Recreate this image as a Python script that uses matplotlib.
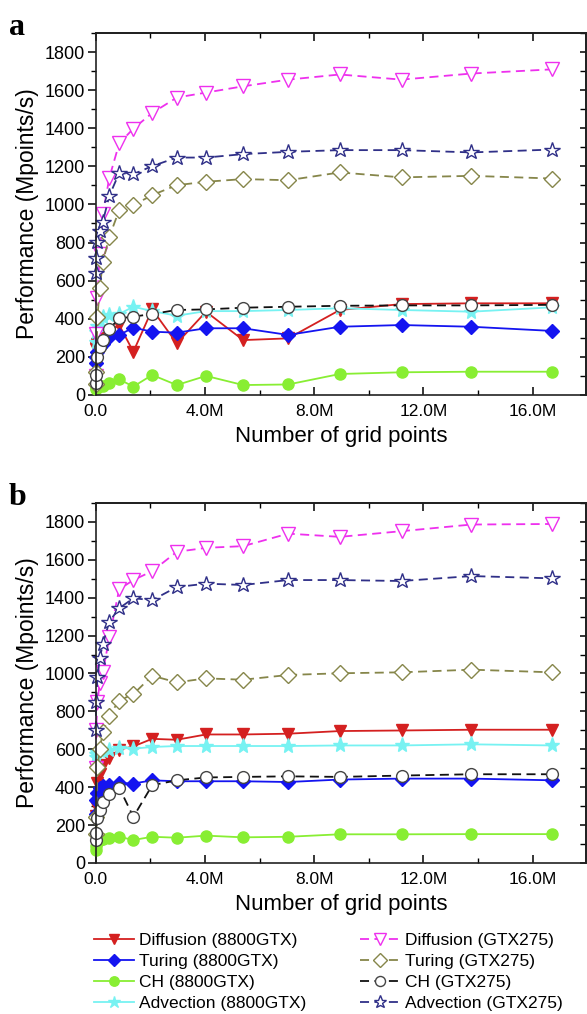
import matplotlib
matplotlib.use("Agg")
import matplotlib.pyplot as plt
from matplotlib.ticker import MultipleLocator, FuncFormatter

plt.rcParams['font.family'] = ['Liberation Sans', 'DejaVu Sans']

# x: number of grid points, in millions
grid_points_M = [0.004, 0.016, 0.066, 0.147, 0.262, 0.5, 0.86, 1.38, 2.07, 2.97,
                 4.04, 5.4, 7.05, 8.94, 11.2, 13.76, 16.72]

# ---- panel a (Mpoints/s) ----
a_diff_8800 = [240, 250, 260, 280, 300, 330, 367, 227, 449, 271, 437, 288, 297, 446, 477, 481, 481]
a_tur_8800 = [170, 200, 227, 250, 265, 306, 315, 353, 332, 327, 350, 350, 315, 358, 367, 358, 336]
a_ch_8800 = [30, 35, 40, 45, 47, 64, 82, 44, 105, 52, 100, 52, 55, 110, 119, 122, 122]
a_adv_8800 = [280, 330, 360, 390, 410, 420, 425, 463, 440, 416, 440, 440, 446, 455, 446, 437, 460]
a_diff_275 = [100, 320, 510, 740, 950, 1140, 1320, 1398, 1480, 1561, 1587, 1620, 1655, 1682, 1655, 1687, 1709]
a_tur_275 = [60, 122, 411, 560, 699, 830, 970, 996, 1049, 1101, 1119, 1133, 1127, 1168, 1142, 1150, 1136]
a_ch_275 = [61, 105, 201, 250, 288, 346, 402, 411, 425, 446, 449, 458, 463, 468, 470, 470, 473]
a_adv_275 = [640, 718, 804, 860, 910, 1045, 1165, 1159, 1201, 1246, 1246, 1264, 1276, 1285, 1285, 1273, 1288]

# ---- panel b (Mpoints/s) ----
b_diff_8800 = [250, 300, 420, 470, 515, 554, 598, 615, 655, 650, 678, 678, 682, 696, 699, 703, 703]
b_tur_8800 = [260, 330, 370, 395, 405, 410, 422, 419, 436, 431, 431, 431, 427, 440, 445, 445, 436]
b_ch_8800 = [70, 90, 110, 120, 125, 130, 138, 121, 138, 133, 144, 135, 138, 151, 151, 152, 152]
b_adv_8800 = [560, 575, 585, 590, 590, 594, 608, 603, 612, 617, 617, 617, 617, 620, 620, 626, 620]
b_diff_275 = [500, 700, 850, 950, 1006, 1190, 1444, 1493, 1540, 1642, 1663, 1672, 1738, 1721, 1751, 1786, 1789]
b_tur_275 = [150, 243, 506, 600, 690, 778, 857, 891, 988, 953, 974, 967, 992, 1001, 1006, 1020, 1006]
b_ch_275 = [121, 160, 235, 280, 322, 366, 398, 243, 410, 436, 451, 454, 457, 454, 461, 468, 468]
b_adv_275 = [700, 850, 980, 1080, 1155, 1274, 1344, 1397, 1387, 1456, 1474, 1467, 1493, 1493, 1488, 1514, 1502]

labels = ['Diffusion (8800GTX)', 'Turing (8800GTX)', 'CH (8800GTX)', 'Advection (8800GTX)',
          'Diffusion (GTX275)', 'Turing (GTX275)', 'CH (GTX275)', 'Advection (GTX275)']

styles = [
    dict(color='#d42020', marker='v', ls='-', mfc='#d42020', mec='#d42020', ms=9),
    dict(color='#1414f0', marker='D', ls='-', mfc='#1414f0', mec='#1414f0', ms=7.5),
    dict(color='#88ee33', marker='o', ls='-', mfc='#88ee33', mec='#88ee33', ms=8),
    dict(color='#77f2f2', marker='*', ls='-', mfc='#77f2f2', mec='#77f2f2', ms=11),
    dict(color='#ee30ee', marker='v', ls=(0, (5, 3)), mfc='white', mec='#ee30ee', ms=9.5),
    dict(color='#86864a', marker='D', ls=(0, (5, 3)), mfc='white', mec='#86864a', ms=8),
    dict(color='#111111', marker='o', ls=(0, (5, 3)), mfc='white', mec='#444444', ms=8.5),
    dict(color='#303088', marker='*', ls=(0, (5, 3)), mfc='white', mec='#303088', ms=11.5),
]

panel_a = [a_diff_8800, a_tur_8800, a_ch_8800, a_adv_8800, a_diff_275, a_tur_275, a_ch_275, a_adv_275]
panel_b = [b_diff_8800, b_tur_8800, b_ch_8800, b_adv_8800, b_diff_275, b_tur_275, b_ch_275, b_adv_275]

fig = plt.figure(figsize=(5.87, 10.14), dpi=100)
ax_a = fig.add_axes([0.163, 0.6105, 0.835, 0.357])
ax_b = fig.add_axes([0.163, 0.149, 0.835, 0.355])


def xfmt(v, pos):
    if abs(v) < 1e-9:
        return '0.0'
    return f'{v:.1f}M'


def style_axes(ax):
    ax.set_xlim(0, 17.95)
    ax.set_ylim(0, 1900)
    ax.xaxis.set_major_locator(MultipleLocator(4))
    ax.xaxis.set_minor_locator(MultipleLocator(2))
    ax.yaxis.set_major_locator(MultipleLocator(200))
    ax.yaxis.set_minor_locator(MultipleLocator(100))
    ax.xaxis.set_major_formatter(FuncFormatter(xfmt))
    ax.tick_params(axis='y', which='major', direction='out', length=6, width=1.1,
                   labelsize=13, pad=1.5, right=False)
    ax.tick_params(axis='y', which='minor', direction='out', length=3.5, width=1.0, right=False)
    ax.tick_params(axis='x', which='major', direction='in', length=6, width=1.1,
                   labelsize=12.5, pad=6.5, top=False)
    ax.tick_params(axis='x', which='minor', direction='in', length=3.5, width=1.0, top=False)
    for s in ax.spines.values():
        s.set_linewidth(1.2)
        s.set_color('#222222')
    sx = ax.secondary_xaxis('top')
    sx.xaxis.set_major_locator(MultipleLocator(4))
    sx.xaxis.set_minor_locator(MultipleLocator(2))
    sx.tick_params(which='major', direction='in', length=6, width=1.1, labeltop=False)
    sx.tick_params(which='minor', direction='in', length=3.5, width=1.0)
    sx.spines['top'].set_linewidth(1.2)
    sy = ax.secondary_yaxis('right')
    sy.yaxis.set_major_locator(MultipleLocator(200))
    sy.yaxis.set_minor_locator(MultipleLocator(100))
    sy.tick_params(which='major', direction='in', length=4, width=1.1, labelright=False)
    sy.tick_params(which='minor', direction='in', length=4, width=1.0)
    sy.spines['right'].set_linewidth(1.2)
    ax.set_xlabel('Number of grid points', fontsize=16, labelpad=5)
    ax.set_ylabel('Performance (Mpoints/s)', fontsize=16.5, labelpad=4)


handles = []
for ax, data in ((ax_a, panel_a), (ax_b, panel_b)):
    hs = []
    for lab, vals, st in zip(labels, data, styles):
        h, = ax.plot(grid_points_M, vals, lw=1.3, label=lab, mew=1.0, clip_on=False, **st)
        hs.append(h)
    style_axes(ax)
    handles = hs

fig.text(0.015, 0.973, 'a', fontsize=23, fontweight='bold', family='Liberation Serif', va='center')
fig.text(0.015, 0.509, 'b', fontsize=23, fontweight='bold', family='Liberation Serif', va='center')

fig.legend(handles, labels, ncol=2, loc='upper left', bbox_to_anchor=(0.160, 0.080),
           frameon=False, fontsize=12.5, handlelength=2.3, handletextpad=0.3,
           columnspacing=3.1, labelspacing=0.33, borderpad=0, borderaxespad=0,
           markerscale=0.85)

fig.savefig('out.png', dpi=100)
